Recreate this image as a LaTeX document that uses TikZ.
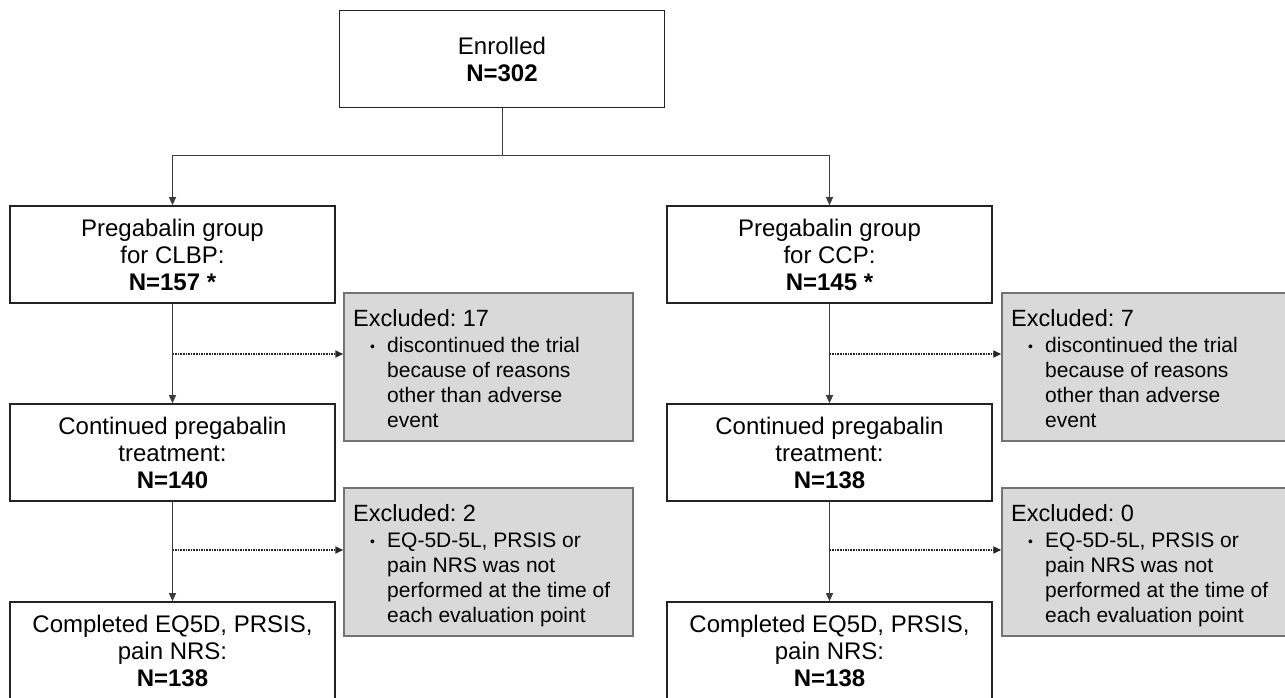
\documentclass[tikz,border=0pt]{standalone}
\usepackage{fontspec}
\setmainfont{Liberation Sans}
\usetikzlibrary{arrows.meta}
\definecolor{exfill}{RGB}{217,217,217}
\definecolor{exline}{RGB}{115,115,115}
\definecolor{boxline}{RGB}{35,35,35}
\definecolor{conn}{RGB}{60,60,60}
\tikzset{
  flowbox/.style={draw=boxline, line width=1.6pt, fill=white, minimum width=325pt, minimum height=97pt, inner sep=0pt, align=center, font=\fontsize{24}{27}\selectfont},
  exbox/.style={draw=exline, line width=1.5pt, fill=exfill, minimum width=289pt, minimum height=148pt, inner sep=0pt},
  extext/.style={anchor=north west, inner sep=0pt, align=left, font=\fontsize{21}{24.7}\selectfont},
  arr/.style={draw=conn, line width=1pt, -{Triangle[length=8pt,width=7pt]}},
  plainline/.style={draw=conn, line width=1pt},
  dotarr/.style={draw=black!85, line width=1.6pt, densely dotted, -{Triangle[length=8pt,width=7pt]}}
}
\newcommand{\bul}{\hspace*{17pt}\makebox[17pt][l]{\raisebox{1pt}{\fontsize{14}{14}\selectfont •}}}
\newcommand{\ind}{\hspace*{34pt}}
\begin{document}
\frenchspacing
\begin{tikzpicture}[x=1pt,y=-1pt]
\useasboundingbox (0,0) rectangle (1285,698);
% main boxes
\node[flowbox] (en) at (502,59) {Enrolled\\\textbf{N=302}};
\node[flowbox] (l1) at (172.5,254.5) {Pregabalin group\\for CLBP:\\\textbf{N=157 *}};
\node[flowbox] (l2) at (172.5,452.5) {Continued pregabalin\\treatment:\\\textbf{N=140}};
\node[flowbox] (l3) at (172.5,650.5) {Completed EQ5D, PRSIS,\\pain NRS:\\\textbf{N=138}};
\node[flowbox] (r1) at (829.5,254.5) {Pregabalin group\\for CCP:\\\textbf{N=145 *}};
\node[flowbox] (r2) at (829.5,452.5) {Continued pregabalin\\treatment:\\\textbf{N=138}};
\node[flowbox] (r3) at (829.5,650.5) {Completed EQ5D, PRSIS,\\pain NRS:\\\textbf{N=138}};
% excluded boxes
\node[exbox] (lx1) at (488.5,367) {};
\node[exbox] (lx2) at (488.5,562) {};
\node[exbox] (rx1) at (1146.5,367) {};
\node[exbox] (rx2) at (1146.5,562) {};
\node[extext] (lt1) at (353,309) {{\fontsize{23.5}{25}\selectfont Excluded: 17}\\[2pt]\bul discontinued the trial\\\ind because of reasons\\\ind other than adverse\\\ind event};
\node[extext] (lt2) at (353,504) {{\fontsize{23.5}{25}\selectfont Excluded: 2}\\[2pt]\bul EQ-5D-5L, PRSIS or\\\ind pain NRS was not\\\ind performed at the time of\\\ind each evaluation point};
\node[extext] (rt1) at (1011,309) {{\fontsize{23.5}{25}\selectfont Excluded: 7}\\[2pt]\bul discontinued the trial\\\ind because of reasons\\\ind other than adverse\\\ind event};
\node[extext] (rt2) at (1011,504) {{\fontsize{23.5}{25}\selectfont Excluded: 0}\\[2pt]\bul EQ-5D-5L, PRSIS or\\\ind pain NRS was not\\\ind performed at the time of\\\ind each evaluation point};
% connectors
\coordinate (split) at (502,156);
\draw[plainline] (en.south) -- (split);
\draw[arr] (split) -| (l1.north);
\draw[arr] (split) -| (r1.north);
\draw[arr] (l1.south) -- (l2.north);
\draw[arr] (l2.south) -- (l3.north);
\draw[arr] (r1.south) -- (r2.north);
\draw[arr] (r2.south) -- (r3.north);
\coordinate (ld1) at (172.5,354);
\coordinate (ld2) at (172.5,550);
\coordinate (rd1) at (829.5,354);
\coordinate (rd2) at (829.5,550);
\draw[dotarr] (ld1) -- (ld1 -| lx1.west);
\draw[dotarr] (ld2) -- (ld2 -| lx2.west);
\draw[dotarr] (rd1) -- (rd1 -| rx1.west);
\draw[dotarr] (rd2) -- (rd2 -| rx2.west);
\end{tikzpicture}
\end{document}
